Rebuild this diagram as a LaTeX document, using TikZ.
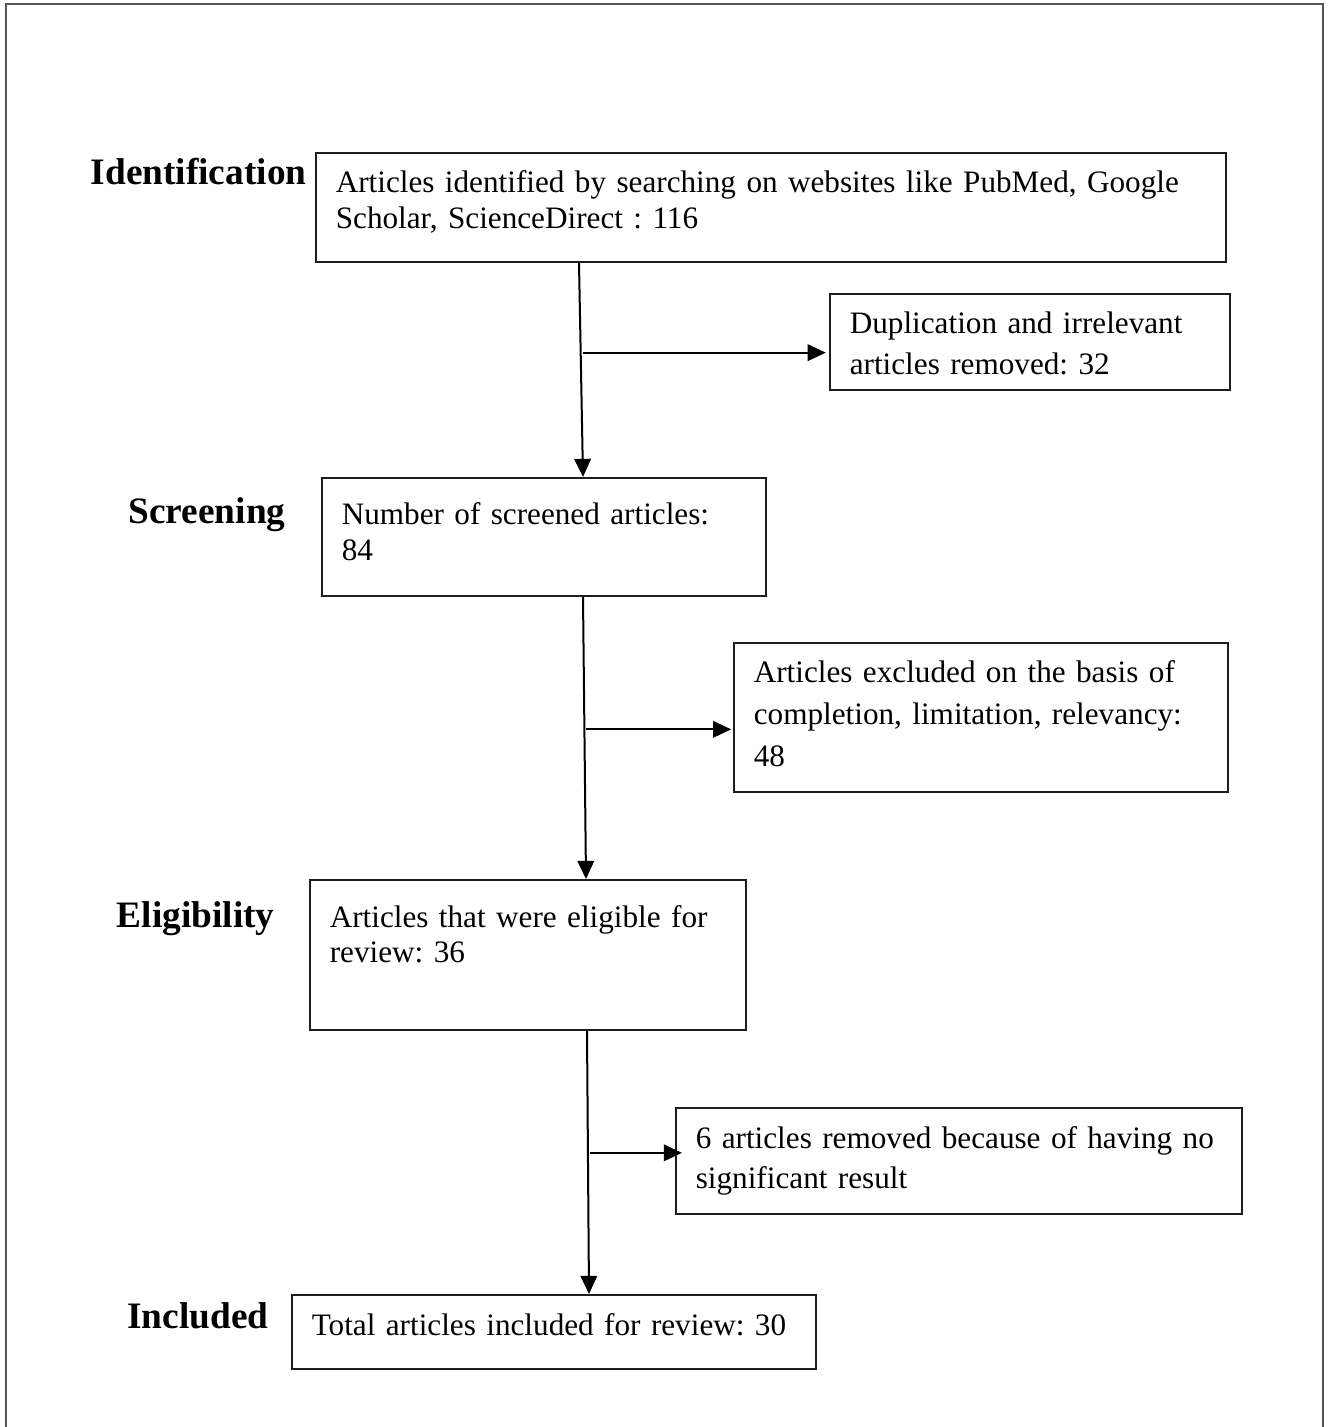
\documentclass[tikz,border=0pt]{standalone}
\usepackage{fontspec}
\setmainfont{Liberation Serif}
\usetikzlibrary{arrows.meta,calc}
\definecolor{boxline}{RGB}{30,30,30}
\definecolor{frameline}{RGB}{85,85,85}
\frenchspacing
\begin{document}
\begin{tikzpicture}[x=0.375pt,y=-0.375pt,
  box/.style={draw=boxline, line width=0.6pt, anchor=north west,
    inner xsep=7.5pt, inner ysep=0pt, align=left},
  stage/.style={anchor=base east, inner sep=0pt,
    font=\fontsize{14pt}{16pt}\selectfont\bfseries},
  flow/.style={line width=0.75pt, -{Triangle[length=6.8pt,width=6.2pt]}},
  frame/.style={draw=frameline, line width=0.9pt},
]
\useasboundingbox (0,0) rectangle (1330,1427);
\draw[frame] (6,1432) -- (6,4) -- (1323,4) -- (1323,1432);

% boxes
\node[box, text width=326.25pt, text height=15pt, text depth=25.875pt,
  font=\fontsize{11.7pt}{13.5pt}\selectfont] (id) at (315,152)
  {\mbox{Articles identified by searching on websites like PubMed, Google}\\\mbox{Scholar, ScienceDirect : 116}};
\node[box, text width=135pt, text height=15pt, text depth=21pt,
  font=\fontsize{11.7pt}{15.375pt}\selectfont] (dup) at (829,293)
  {\mbox{Duplication and irrelevant}\\\mbox{articles removed: 32}};
\node[box, text width=151.5pt, text height=17.625pt, text depth=26.625pt,
  font=\fontsize{11.7pt}{13.5pt}\selectfont] (scr) at (321,477)
  {\mbox{Number of screened articles:}\\\mbox{84}};
\node[box, text width=170.25pt, text height=15pt, text depth=40.875pt,
  font=\fontsize{11.7pt}{15.75pt}\selectfont] (excl) at (733,642)
  {\mbox{Articles excluded on the basis of}\\\mbox{completion, limitation, relevancy:}\\\mbox{48}};
\node[box, text width=148.5pt, text height=18pt, text depth=38.25pt,
  font=\fontsize{11.7pt}{13.125pt}\selectfont] (elig) at (309,879)
  {\mbox{Articles that were eligible for}\\\mbox{review: 36}};
\node[box, text width=197.25pt, text height=15.375pt, text depth=24.375pt,
  font=\fontsize{11.7pt}{15pt}\selectfont] (six) at (675,1107)
  {\mbox{6 articles removed because of having no}\\\mbox{significant result}};
\node[box, text width=181.5pt, text height=15.375pt, text depth=12.375pt,
  font=\fontsize{11.7pt}{13.5pt}\selectfont] (incl) at (291,1294)
  {\mbox{Total articles included for review: 30}};

% stage labels
\node[stage] (lid) at (307,184) {Identification};
\node[stage] (lscr) at (286,523) {Screening};
\node[stage] (lelig) at (275,927) {Eligibility};
\node[stage] (lincl) at (269,1328) {Included};

% main flow
\draw[flow] ([xshift=99pt]id.south west) -- coordinate[pos=0.42] (j1) ([xshift=98.25pt]scr.north west);
\draw[flow] ([xshift=98.25pt]scr.south west) -- coordinate[pos=0.47] (j2) ([xshift=103.875pt]elig.north west);
\draw[flow] ([xshift=104.25pt]elig.south west) -- coordinate[pos=0.464] (j3) ([xshift=111.75pt]incl.north west);

% side branches
\draw[flow, shorten >=1.2pt] ([xshift=0.8pt]j1) -- (dup.west |- j1);
\draw[flow, shorten >=0.7pt] ([xshift=0.6pt]j2) -- (excl.west |- j2);
\draw[flow, shorten >=-2.6pt] ([xshift=0.8pt]j3) -- (six.west |- j3);
\end{tikzpicture}
\end{document}
